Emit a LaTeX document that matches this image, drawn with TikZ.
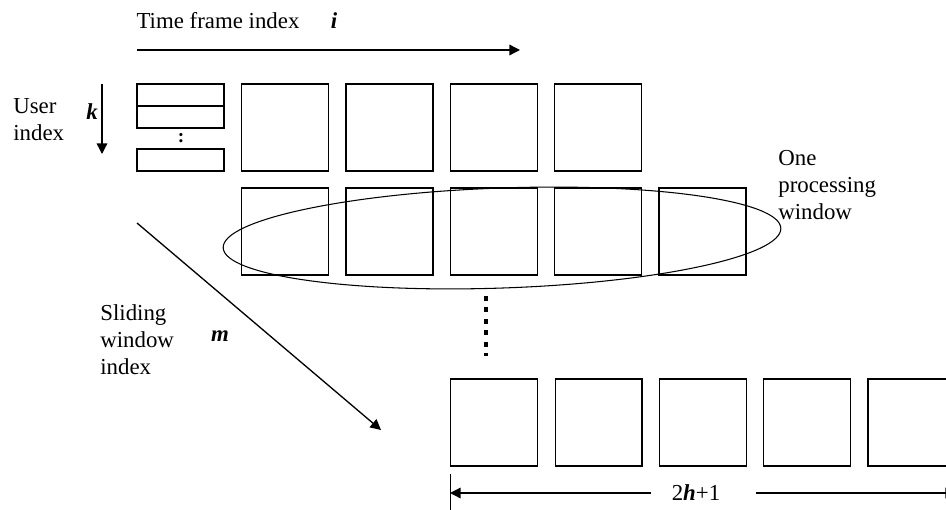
\documentclass[tikz,border=0pt]{standalone}
\usepackage{fontspec}
\setmainfont{Liberation Serif}
\usetikzlibrary{arrows.meta,calc,positioning}

\begin{document}
\begin{tikzpicture}[x=0.02cm,y=0.02cm]

\tikzset{frame/.style = {shape=rectangle,draw,line width=0.7pt,inner sep=0pt,minimum width=1.74cm,minimum height=1.74cm}}
\tikzset{slot/.style = {frame,minimum height=0.44cm}}
\tikzset{lbl/.style = {font=\fontsize{13}{15.3}\selectfont,align=left,inner sep=0pt}}
\tikzset{edge1/.style = {-{Triangle[length=6pt,width=6pt]},line width=0.75pt}}

\useasboundingbox (0,0) rectangle (946,-510);
\clip (0,0) rectangle (946,-510);

% frames
\node[slot] (u1) at (180.5,-95) {};
\node[slot] (u2) at (180.5,-117) {};
\node[slot] (un) at (180.5,-160) {};
\node[font=\fontsize{11}{11}\selectfont\bfseries] (udots) at (181,-138) {:};
\foreach \c in {1,...,4}
  \node[frame] (r1c\c) at (181+104.3*\c,-127.5) {};
\foreach \c in {1,...,5}
  \node[frame] (r2c\c) at (181+104.3*\c,-231.5) {};
\foreach \c in {1,...,5}
  \node[frame] (r3c\c) at (390+104.3*\c,-422.5) {};

% labels
\node[lbl] (tfi) at (218,-21) {Time frame index};
\node[lbl] (ti) at (334,-21) {\textbf{\textit{i}}};
\node[lbl,anchor=west] (user) at (13,-120) {User\\index};
\node[lbl] (uk) at (92,-112) {\textbf{\textit{k}}};
\node[lbl,anchor=west] (opw) at (778,-185) {One\\processing\\window};
\node[lbl,anchor=west] (swi) at (100,-340) {Sliding\\window\\index};
\node[lbl] (sm) at (220,-336) {\textbf{\textit{m}}};
\node[lbl] (len) at (696,-493) {2\textbf{\textit{h}}+1};

% ends
\coordinate (ti0) at (137,-50);
\coordinate (ti1) at (520,-50);
\coordinate (uk0) at (102,-84);
\coordinate (uk1) at (102,-154);
\coordinate (sm0) at (137,-223);
\coordinate (sm1) at (381,-430);
\coordinate (wl) at (450,-493);
\coordinate (wr) at (956,-493);

%edges
\draw[edge1] (ti0) -- (ti1);
\draw[edge1] (uk0) -- (uk1);
\draw[edge1] (sm0) -- (sm1);
\draw[edge1,shorten <=0.4cm] (len.west) -- (wl);
\draw[edge1,shorten <=0.7cm] (len.east) -- (wr);
\draw[line width=0.7pt] (r3c1.south west) ++(0,-7) -- ++(0,-45);

% window
\draw[line width=0.6pt,rotate around={2:(502,-238)}] (502,-238) ellipse [x radius=279,y radius=50];
\draw[line width=2.8pt,dash pattern=on 2.8pt off 3.7pt] (486,-296) -- (486,-356);

\end{tikzpicture}
\end{document}
